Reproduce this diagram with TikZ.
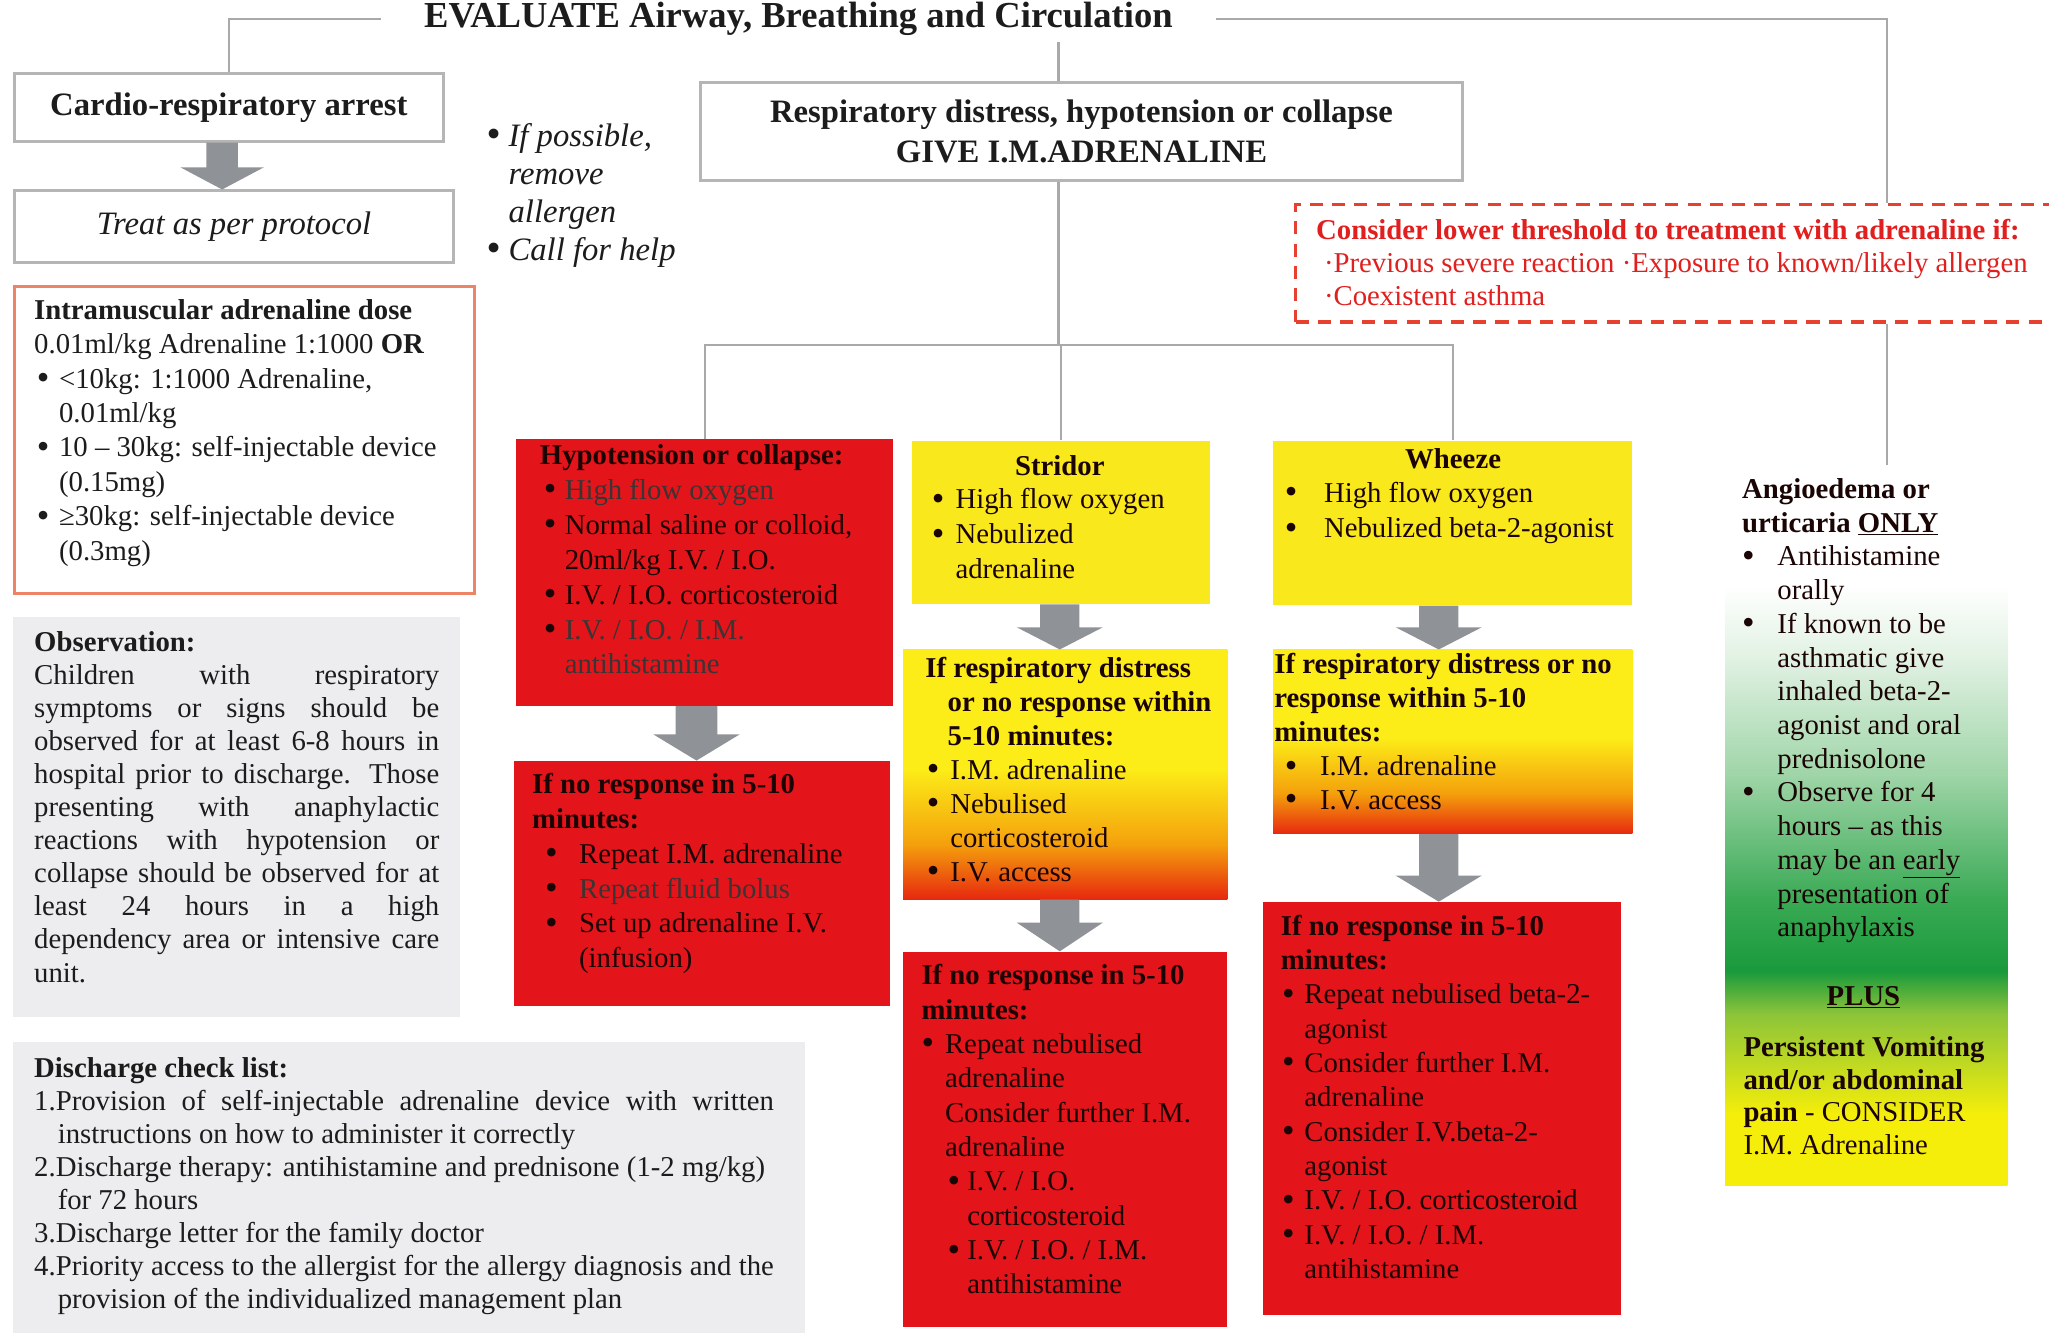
\documentclass[tikz,border=0pt]{standalone}
\usepackage{fontspec}
\setmainfont{Liberation Serif}
\usetikzlibrary{calc}
\definecolor{linegray}{HTML}{A9A9A9}
\definecolor{boxgray}{HTML}{B5B5B5}
\definecolor{arrowc}{HTML}{8F9297}
\definecolor{rbox}{HTML}{E3151B}
\definecolor{ybox}{HTML}{F9E81C}
\definecolor{obsfill}{HTML}{EDEDEF}
\definecolor{doseb}{HTML}{EE8466}
\definecolor{dashr}{HTML}{E8402E}
\definecolor{redtxt}{HTML}{E01F1E}
\definecolor{txtc}{HTML}{1C1C1C}
\definecolor{rtxt}{HTML}{1A0404}
\definecolor{dimgray}{HTML}{3A3434}
\definecolor{gy}{HTML}{FCEC18}
\definecolor{go}{HTML}{F4A00C}
\definecolor{gr}{HTML}{E7280F}
\definecolor{ay}{HTML}{F4EE0A}
\definecolor{ayg}{HTML}{8CC43A}
\definecolor{ag}{HTML}{1A9A3C}
\definecolor{ag2}{HTML}{3AAA55}
\definecolor{alg}{HTML}{A2D6AA}
\definecolor{avl}{HTML}{E2F2E4}
\pgfdeclareverticalshading{yor}{100bp}{color(0bp)=(gr); color(25bp)=(gr); color(36bp)=(go); color(51bp)=(gy); color(75bp)=(gy); color(100bp)=(gy)}
\pgfdeclareverticalshading{angio}{100bp}{color(0bp)=(ay); color(25bp)=(ay); color(30bp)=(ay); color(37bp)=(ayg); color(40bp)=(ag); color(45bp)=(ag2); color(54bp)=(alg); color(62bp)=(avl); color(67bp)=(white); color(75bp)=(white); color(100bp)=(white)}
\newcommand{\tlines}[2]{\vtop{\baselineskip=#1pt\lineskiplimit=-\maxdimen\lineskip=0pt\let\\\cr\halign{##\hfil\cr#2\crcr}}}
\newcommand{\bigbul}{\raisebox{-0.05em}{\scalebox{1.25}{\textbullet}}}
\newcommand{\bul}[3]{\hspace*{#1pt}\makebox[#2pt][l]{\bigbul}#3}
\newcommand{\cont}[1]{\hspace*{#1pt}}
\newcommand{\jline}[2]{\makebox[#1pt][s]{#2}}
\newcommand{\dimt}[1]{\textcolor{dimgray}{#1}}
\newcommand{\barrow}[6]{\fill[arrowc] let \p1=(#1.south), \p2=(#2.north) in (#3pt-#5pt,\y1) -- (#3pt+#5pt,\y1) -- (#3pt+#5pt,\y2+#4pt) -- (#3pt+#6pt,\y2+#4pt) -- (#3pt,\y2) -- (#3pt-#6pt,\y2+#4pt) -- (#3pt-#5pt,\y2+#4pt) -- cycle;}
\begin{document}
\begin{tikzpicture}[x=1pt,y=-1pt,
  conn/.style={draw=linegray,line width=1.6pt},
  gbox/.style={rectangle,draw=boxgray,line width=2.2pt,fill=white,inner sep=0pt,anchor=north west,text=txtc},
  pbox/.style={rectangle,inner sep=0pt,anchor=north west},
  lbl/.style={anchor=base west,inner sep=0pt,font=\fontsize{22}{26}\selectfont,text=txtc},
  rl/.style={lbl,text=rtxt},
  hd/.style={anchor=base,inner sep=0pt,font=\fontsize{22}{26}\selectfont\bfseries,text=rtxt},
]
\useasboundingbox (0,0) rectangle (1568,1020);
\fill[white] (0,0) rectangle (1568,1020);

% top
\node[font=\fontsize{28}{30}\selectfont\bfseries, text=txtc, anchor=base, inner xsep=33pt, inner ysep=0pt] (title) at (611,21) {EVALUATE Airway, Breathing and Circulation};
\node[gbox, minimum width=328pt, minimum height=52pt, font=\fontsize{25}{30}\selectfont\bfseries] (cardio) at (10,55) {Cardio-respiratory arrest};
\node[gbox, minimum width=336pt, minimum height=55pt, font=\fontsize{25}{30}\selectfont\itshape] (treat) at (10,145) {Treat as per protocol};
\node[gbox, minimum width=583pt, minimum height=75pt, align=center, font=\fontsize{25}{30}\selectfont\bfseries] (resp) at (535,62) {Respiratory distress, hypotension or collapse\\GIVE I.M.ADRENALINE};
\node[lbl, font=\fontsize{25}{29}\selectfont\itshape] (hint) at (372,112) {\tlines{29}{\bul{0}{17}{If possible,}\\ \cont{17}remove\\ \cont{17}allergen\\ \bul{0}{17}{Call for help}}};

% threshold box
\node[pbox, draw=dashr, line width=2.8pt, dash pattern=on 10pt off 7pt, fill=white, minimum width=620pt, minimum height=90pt] (thresh) at (990,155) {};
\node[lbl, text=redtxt] (threshtxt) at (1007,183.5) {\tlines{25}{\textbf{Consider lower threshold to treatment with adrenaline if:}\\ \cont{6}·Previous severe reaction ·Exposure to known/likely allergen\\ \cont{6}·Coexistent asthma}};

% left column
\node[pbox, draw=doseb, line width=2.5pt, fill=white, minimum width=352pt, minimum height=235pt] (dose) at (10,218) {};
\node[lbl] (dosetxt) at (26,244.5) {\tlines{26.3}{\textbf{Intramuscular adrenaline dose}\\ 0.01ml/kg Adrenaline 1:1000 \textbf{OR}\\ \bul{2}{17}{<10kg: 1:1000 Adrenaline,}\\ \cont{19}0.01ml/kg\\ \bul{2}{17}{10 – 30kg: self-injectable device}\\ \cont{19}(0.15mg)\\ \bul{2}{17}{≥30kg: self-injectable device}\\ \cont{19}(0.3mg)}};

\node[pbox, fill=obsfill, minimum width=342pt, minimum height=306pt] (obs) at (10,472) {};
\node[lbl] (obstxt) at (26,498.5) {\tlines{25.3}{\textbf{Observation:}\\ \jline{310}{Children with respiratory}\\ \jline{310}{symptoms or signs should be}\\ \jline{310}{observed for at least 6-8 hours in}\\ \jline{310}{hospital prior to discharge. Those}\\ \jline{310}{presenting with anaphylactic}\\ \jline{310}{reactions with hypotension or}\\ \jline{310}{collapse should be observed for at}\\ \jline{310}{least 24 hours in a high}\\ \jline{310}{dependency area or intensive care}\\ unit.}};

\node[pbox, fill=obsfill, minimum width=606pt, minimum height=230pt] (dis) at (10,797) {};
\node[lbl] (distxt) at (26,824.5) {\tlines{25.3}{\textbf{Discharge check list:}\\ \jline{566}{1.Provision of self-injectable adrenaline device with written}\\ \cont{18}instructions on how to administer it correctly\\ 2.Discharge therapy: antihistamine and prednisone (1-2 mg/kg)\\ \cont{18}for 72 hours\\ 3.Discharge letter for the family doctor\\ \jline{566}{4.Priority access to the allergist for the allergy diagnosis and the}\\ \cont{18}provision of the individualized management plan}};

% hypotension column
\node[pbox, fill=rbox, minimum width=288pt, minimum height=204pt] (hypo) at (395,336) {};
\node[rl] (hypotxt) at (413,355.5) {\tlines{26.7}{\textbf{Hypotension or collapse:}\\ \bul{3}{16}{\dimt{High flow oxygen}}\\ \bul{3}{16}{Normal saline or colloid,}\\ \cont{19}20ml/kg I.V. / I.O.\\ \bul{3}{16}{I.V. / I.O. corticosteroid}\\ \bul{3}{16}{\dimt{I.V. / I.O. / I.M.}}\\ \cont{19}\dimt{antihistamine}}};
\node[pbox, fill=rbox, minimum width=288pt, minimum height=188pt] (hypo2) at (393,582) {};
\node[rl] (hypo2txt) at (407,607.5) {\tlines{26.6}{\textbf{If no response in 5-10}\\ \textbf{minutes:}\\ \bul{10}{26}{Repeat I.M. adrenaline}\\ \bul{10}{26}{\dimt{Repeat fluid bolus}}\\ \bul{10}{26}{Set up adrenaline I.V.}\\ \cont{36}(infusion)}};

% stridor column
\node[pbox, fill=ybox, minimum width=228pt, minimum height=125pt] (str1) at (698,337) {};
\node[hd] (str1h) at (811,363.5) {Stridor};
\node[rl] (str1txt) at (713,389.5) {\tlines{26.5}{\bul{0}{18}{High flow oxygen}\\ \bul{0}{18}{Nebulized}\\ \cont{18}adrenaline}};
\node[pbox, shade, shading=yor, minimum width=248pt, minimum height=191pt] (str2) at (691,497) {};
\node[rl] (str2txt) at (708,518.5) {\tlines{26}{\textbf{If respiratory distress}\\ \cont{17}\textbf{or no response within}\\ \cont{17}\textbf{5-10 minutes:}\\ \bul{1}{18}{I.M. adrenaline}\\ \bul{1}{18}{Nebulised}\\ \cont{19}corticosteroid\\ \bul{1}{18}{I.V. access}}};
\node[pbox, fill=rbox, minimum width=248pt, minimum height=287pt] (str3) at (691,728) {};
\node[rl] (str3txt) at (705,753.5) {\tlines{26.3}{\textbf{If no response in 5-10}\\ \textbf{minutes:}\\ \bul{0}{18}{Repeat nebulised}\\ \cont{18}adrenaline\\ \cont{18}Consider further I.M.\\ \cont{18}adrenaline\\ \bul{20}{15}{I.V. / I.O.}\\ \cont{35}corticosteroid\\ \bul{20}{15}{I.V. / I.O. / I.M.}\\ \cont{35}antihistamine}};

% wheeze column
\node[pbox, fill=ybox, minimum width=275pt, minimum height=126pt] (wh1) at (974,337) {};
\node[hd] (wh1h) at (1112,358.5) {Wheeze};
\node[rl] (wh1txt) at (983,384.5) {\tlines{27}{\bul{0}{30}{High flow oxygen}\\ \bul{0}{30}{Nebulized beta-2-agonist}}};
\node[pbox, shade, shading=yor, minimum width=275pt, minimum height=141pt] (wh2) at (974,497) {};
\node[rl] (wh2txt) at (975,515.5) {\tlines{26}{\textbf{If respiratory distress or no}\\ \textbf{response within 5-10}\\ \textbf{minutes:}\\ \bul{8}{27}{I.M. adrenaline}\\ \bul{8}{27}{I.V. access}}};
\node[pbox, fill=rbox, minimum width=274pt, minimum height=316pt] (wh3) at (966,690) {};
\node[rl] (wh3txt) at (980,715.5) {\tlines{26.3}{\textbf{If no response in 5-10}\\ \textbf{minutes:}\\ \bul{1}{17}{Repeat nebulised beta-2-}\\ \cont{18}agonist\\ \bul{1}{17}{Consider further I.M.}\\ \cont{18}adrenaline\\ \bul{1}{17}{Consider I.V.beta-2-}\\ \cont{18}agonist\\ \bul{1}{17}{I.V. / I.O. corticosteroid}\\ \bul{1}{17}{I.V. / I.O. / I.M.}\\ \cont{18}antihistamine}};

% angioedema column
\node[pbox, shade, shading=angio, minimum width=216pt, minimum height=547pt] (angio) at (1320,360) {};
\node[rl] (angiotxt) at (1333,381.5) {\tlines{25.8}{\textbf{Angioedema or}\\ \textbf{urticaria \underline{ONLY}}\\ \bul{0}{27}{Antihistamine}\\ \cont{27}orally\\ \bul{0}{27}{If known to be}\\ \cont{27}asthmatic give\\ \cont{27}inhaled beta-2-\\ \cont{27}agonist and oral\\ \cont{27}prednisolone\\ \bul{0}{27}{Observe for 4}\\ \cont{27}hours – as this\\ \cont{27}may be an \underline{early}\\ \cont{27}presentation of\\ \cont{27}anaphylaxis}};
\node[hd] (plus) at (1426,769.5) {\underline{PLUS}};
\node[rl] (persist) at (1334,808.5) {\tlines{25}{\textbf{Persistent Vomiting}\\ \textbf{and/or abdominal}\\ \textbf{pain} - CONSIDER\\ I.M. Adrenaline}};

% connectors
\coordinate (tdrop) at (810,32);
\coordinate (bar) at (810,264);
\coordinate (angtop) at (1444,356);
\draw[conn] (title.west) -| (cardio.north);
\draw[conn] (title.east) -| (thresh.north -| angtop);
\draw[conn] (thresh.south -| angtop) -- (angtop);
\draw[conn] (tdrop) -- (tdrop |- resp.north);
\draw[conn] (tdrop |- resp.south) -- (bar);
\draw[conn] (hypo.north) -- (hypo.north |- bar) -- (wh1.north |- bar) -- (wh1.north);
\draw[conn] (str1.north |- bar) -- (str1.north);

% block arrows
\barrow{cardio}{treat}{170}{17}{12}{32}
\barrow{hypo}{hypo2}{533}{20}{16}{33}
\barrow{str1}{str2}{811}{17}{15}{33}
\barrow{str2}{str3}{811}{22}{15}{33}
\barrow{wh1}{wh2}{1101}{17}{15}{33}
\barrow{wh2}{wh3}{1101}{20}{15}{33}
\end{tikzpicture}
\end{document}
